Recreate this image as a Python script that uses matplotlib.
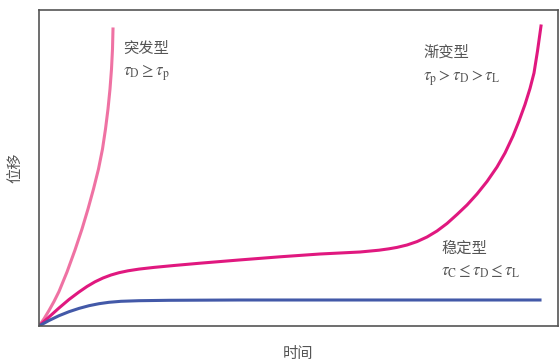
import matplotlib
matplotlib.use("Agg")
import matplotlib.pyplot as plt

plt.rcParams['font.family'] = ['Noto Sans CJK SC', 'DejaVu Sans']
plt.rcParams['mathtext.fontset'] = 'stix'

# curves (time, displacement), arbitrary units
t_sudden = [0, 5, 10, 15, 20, 28, 36, 43, 49, 54.5, 59.5, 63.5, 66.5, 69, 71, 72.5, 73.5, 74]
d_sudden = [0, 7.2, 15.5, 24.5, 34.5, 54, 76, 97, 117, 137, 157, 177, 197, 217, 237, 257, 277, 297]

t_gradual = [0, 10, 20, 30, 40, 48, 56, 64, 72, 80, 89, 100, 115, 135, 161, 200,
             241, 281, 321, 340, 350, 358, 368, 378, 388, 398, 408, 418, 428, 438, 448,
             458, 466, 474, 480, 486, 491, 495, 498.5, 502]
d_gradual = [0, 9, 18, 26.5, 34, 39.5, 44.2, 48, 51, 53.3, 55.2, 56.9, 58.6, 60.5, 62.8, 66,
             69.2, 72, 74, 75.8, 77.2, 78.6, 81, 84.4, 89, 95, 102.5, 111.5, 121, 132, 144.5,
             159, 173, 190, 205, 221.5, 237.5, 253, 275, 300]

t_stable = [0, 10, 20, 30, 40, 50, 60, 70, 82, 100, 130, 200, 300, 400, 501]
d_stable = [0, 5.5, 10.3, 14.3, 17.6, 20.3, 22.3, 23.7, 24.7, 25.3, 25.7, 26, 26, 26, 26]

fig = plt.figure(figsize=(5.59, 3.61), dpi=100)
ax = fig.add_axes([39/559, 35/361, 519/559, 316/361])

ax.plot(t_sudden, d_sudden, color='#ef72a3', lw=2.2, solid_joinstyle='round')
ax.plot(t_gradual, d_gradual, color='#e0187f', lw=2.2, solid_joinstyle='round')
ax.plot(t_stable, d_stable, color='#4359a8', lw=2.2, solid_joinstyle='round')

ax.set_xlim(0, 519)
ax.set_ylim(0, 316)
ax.set_xticks([])
ax.set_yticks([])
for s in ax.spines.values():
    s.set_color('#555555')
    s.set_linewidth(1.2)

tc = '#555555'
ax.text(84, 278, '突发型', fontsize=11, color=tc, va='center')
ax.text(84, 253, r'$\tau_{\mathrm{D}} \geq \tau_{\mathrm{p}}$', fontsize=12, color=tc, va='center')
ax.text(384, 274, '渐变型', fontsize=11, color=tc, va='center')
ax.text(384, 248, r'$\tau_{\mathrm{p}} > \tau_{\mathrm{D}} > \tau_{\mathrm{L}}$', fontsize=12, color=tc, va='center')
ax.text(402, 78, '稳定型', fontsize=11, color=tc, va='center')
ax.text(402, 55, r'$\tau_{\mathrm{C}} \leq \tau_{\mathrm{D}} \leq \tau_{\mathrm{L}}$', fontsize=12, color=tc, va='center')

ax.set_xlabel('时间', fontsize=11, color=tc, labelpad=14)
ax.set_ylabel('位移', fontsize=11, color=tc, labelpad=11)

fig.savefig('out.png', dpi=100)
